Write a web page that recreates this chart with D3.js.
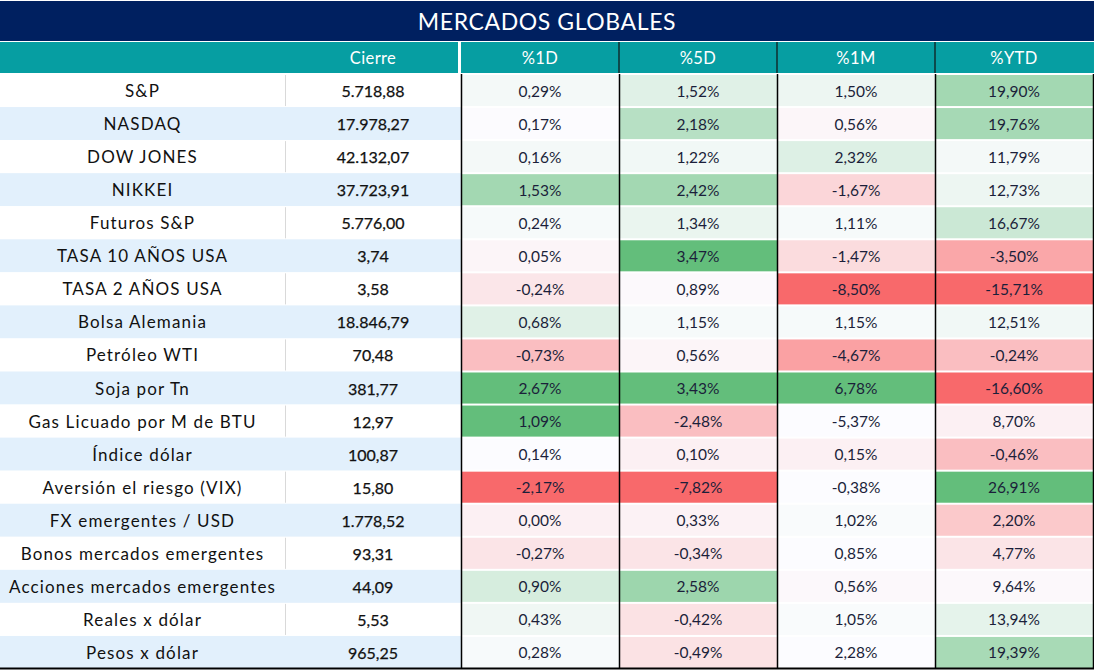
<!DOCTYPE html>
<html><head><meta charset="utf-8">
<script src="https://cdn.jsdelivr.net/npm/d3@7"></script>
<style>
html,body{margin:0;padding:0;background:#fff;}
svg{display:block;}
text{font-family:Lato,"Open Sans",sans-serif;}
</style></head>
<body>
<svg id="chart" width="1094" height="670"></svg>
<script>
const title = "MERCADOS GLOBALES";
const headers = ["Cierre", "%1D", "%5D", "%1M", "%YTD"];
const labels = ["S&P","NASDAQ","DOW JONES","NIKKEI","Futuros S&P","TASA 10 AÑOS USA","TASA 2 AÑOS USA","Bolsa Alemania","Petróleo WTI","Soja por Tn","Gas Licuado por M de BTU","Índice dólar","Aversión el riesgo (VIX)","FX emergentes / USD","Bonos mercados emergentes","Acciones mercados emergentes","Reales x dólar","Pesos x dólar"];
const cierre = ["5.718,88","17.978,27","42.132,07","37.723,91","5.776,00","3,74","3,58","18.846,79","70,48","381,77","12,97","100,87","15,80","1.778,52","93,31","44,09","5,53","965,25"];
const pct1D  = [0.29,0.17,0.16,1.53,0.24,0.05,-0.24,0.68,-0.73,2.67,1.09,0.14,-2.17,0.00,-0.27,0.90,0.43,0.28];
const pct5D  = [1.52,2.18,1.22,2.42,1.34,3.47,0.89,1.15,0.56,3.43,-2.48,0.10,-7.82,0.33,-0.34,2.58,-0.42,-0.49];
const pct1M  = [1.50,0.56,2.32,-1.67,1.11,-1.47,-8.50,1.15,-4.67,6.78,-5.37,0.15,-0.38,1.02,0.85,0.56,1.05,2.28];
const pctYTD = [19.90,19.76,11.79,12.73,16.67,-3.50,-15.71,12.51,-0.24,-16.60,8.70,-0.46,26.91,2.20,4.77,9.64,13.94,19.39];
// conditional-format intensity (-1 red .. 0 white .. +1 green)
const heat1D  = [0.05,-0.01,0.05,0.58,0.04,-0.05,-0.15,0.18,-0.42,1,1,0,-1,-0.08,-0.16,0.25,0.08,0.03];
const heat5D  = [0.18,0.45,0.07,0.58,0.12,1,-0.02,0.04,-0.05,1,-0.42,-0.08,-1,-0.07,-0.16,0.62,-0.18,-0.18];
const heat1M  = [0.10,-0.04,0.20,-0.26,0.04,-0.22,-1,0.04,-0.62,1,0,-0.08,0,0.02,0,-0.03,0.02,0];
const heatYTD = [0.58,0.56,0.05,0.10,0.32,-0.58,-1,0.07,-0.42,-1,-0.08,-0.42,1,-0.35,-0.16,-0.03,0.15,0.55];

const pctCols = [
  {name:"%1D", vals:pct1D, heat:heat1D},
  {name:"%5D", vals:pct5D, heat:heat5D},
  {name:"%1M", vals:pct1M, heat:heat1M},
  {name:"%YTD", vals:pctYTD, heat:heatYTD}
];

const W = 1094, H = 670;
const svg = d3.select("#chart");
const titleH = 41, headTop = 42, headBot = 74, tableBot = 669;
const labelX1 = 285, cierreX1 = 461, rightX = 1093;

const y = d3.scaleBand().domain(labels).range([headBot, tableBot]).paddingInner(0);
const x = d3.scaleBand().domain(pctCols.map(d=>d.name)).range([cierreX1, rightX]).paddingInner(0);
const color = d3.scaleLinear().domain([-1,0,1]).range(["#f8696b","#fcfcff","#63be7b"]).clamp(true);
const fmt = v => d3.format(".2f")(v).replace("\u2212", "-").replace(".", ",") + "%";

// title
svg.append("rect").attr("x",0).attr("y",1).attr("width",W).attr("height",titleH-1).attr("fill","#002060");
svg.append("text").attr("x",W/2).attr("y",21).attr("text-anchor","middle").attr("dominant-baseline","central")
  .attr("fill","#fff").attr("font-size",23).attr("letter-spacing",0.6).text(title);

// header
svg.append("rect").attr("x",0).attr("y",headTop).attr("width",W).attr("height",headBot-headTop-1).attr("fill","#069ea2");
const headCenters = [(labelX1+cierreX1)/2].concat(pctCols.map(d=>x(d.name)+x.bandwidth()/2));
svg.selectAll("text.head").data(headers).join("text").attr("class","head")
  .attr("x",(d,i)=>headCenters[i]).attr("y",(headTop+headBot)/2).attr("text-anchor","middle")
  .attr("dominant-baseline","central").attr("fill","#fff").attr("font-size",16.5).attr("letter-spacing",0.4).text(d=>d);
svg.append("rect").attr("x",cierreX1-3).attr("y",headTop).attr("width",3).attr("height",headBot-headTop).attr("fill","#fff");
pctCols.slice(1).forEach(c=>{
  svg.append("line").attr("x1",x(c.name)).attr("x2",x(c.name)).attr("y1",headTop).attr("y2",headBot-1)
    .attr("stroke","#111").attr("stroke-width",1.2);
});

// rows - label + cierre
const rows = svg.selectAll("g.row").data(labels).join("g").attr("class","row");
rows.append("rect").attr("x",0).attr("y",d=>y(d)).attr("width",cierreX1).attr("height",y.bandwidth())
  .attr("fill",(d,i)=> i%2 ? "#e2f0fc" : "#ffffff");
rows.filter((d,i)=>i%2===0).append("line").attr("x1",labelX1+0.5).attr("x2",labelX1+0.5)
  .attr("y1",d=>y(d)+1).attr("y2",d=>y(d)+y.bandwidth()-1).attr("stroke","#d9d9d9").attr("stroke-width",1);
rows.append("text").attr("x",labelX1/2).attr("y",d=>y(d)+y.bandwidth()/2).attr("text-anchor","middle")
  .attr("dominant-baseline","central").attr("font-size",17).attr("letter-spacing",1.15).attr("fill","#111").text(d=>d);
rows.append("text").attr("x",(labelX1+cierreX1)/2).attr("y",d=>y(d)+y.bandwidth()/2).attr("text-anchor","middle")
  .attr("dominant-baseline","central").attr("font-size",16).attr("font-weight",400)
  .attr("stroke","#111").attr("stroke-width",0.25).attr("fill","#111")
  .text((d,i)=>cierre[i]);

// percentage cells
pctCols.forEach(c=>{
  const g = svg.append("g");
  g.selectAll("rect").data(c.vals).join("rect")
    .attr("x",x(c.name)).attr("y",(d,i)=>y(labels[i])+1)
    .attr("width",x.bandwidth()).attr("height",y.bandwidth()-2)
    .attr("fill",(d,i)=>color(c.heat[i]));
  g.selectAll("text").data(c.vals).join("text")
    .attr("x",x(c.name)+x.bandwidth()/2).attr("y",(d,i)=>y(labels[i])+y.bandwidth()/2)
    .attr("text-anchor","middle").attr("dominant-baseline","central")
    .attr("font-size",15.5).attr("fill","#1b1f3a").text(d=>fmt(d));
});
// vertical black lines
pctCols.forEach(c=>{
  svg.append("line").attr("x1",x(c.name)+0.5).attr("x2",x(c.name)+0.5).attr("y1",headBot).attr("y2",tableBot)
    .attr("stroke","#000").attr("stroke-width",1.5);
});
svg.append("line").attr("x1",rightX+0.5).attr("x2",rightX+0.5).attr("y1",headBot).attr("y2",tableBot)
  .attr("stroke","#000").attr("stroke-width",1.5);
// bottom border
svg.append("line").attr("x1",0).attr("x2",W).attr("y1",tableBot-0.5).attr("y2",tableBot-0.5)
  .attr("stroke","#000").attr("stroke-width",2);
</script>
</body></html>
